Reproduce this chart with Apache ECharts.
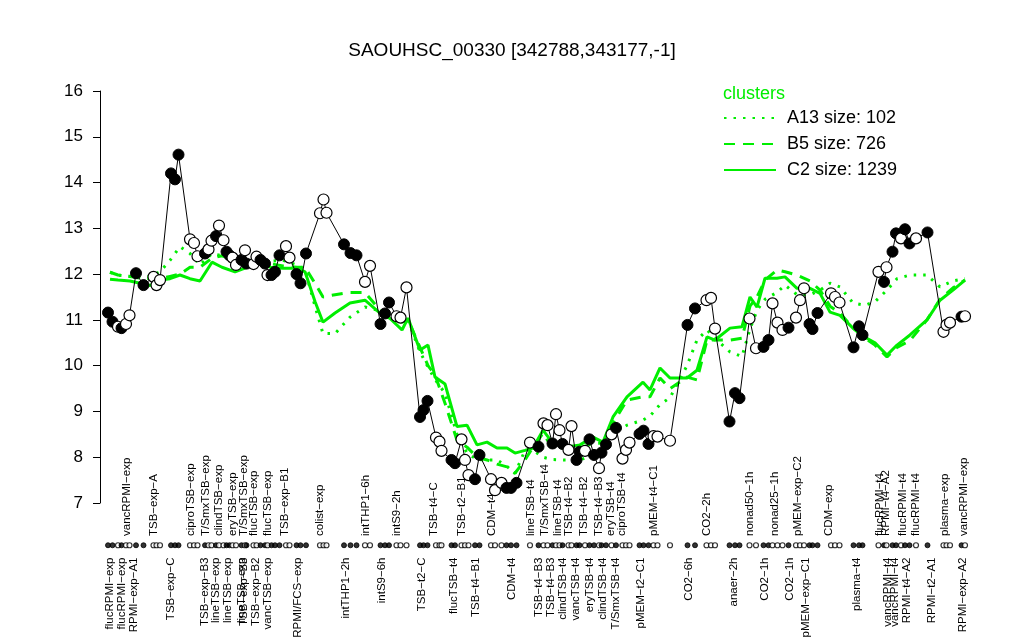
<!DOCTYPE html>
<html>
<head>
<meta charset="utf-8">
<script src="https://cdn.jsdelivr.net/npm/echarts@6/dist/echarts.min.js"></script>
<style>
  html, body { margin: 0; padding: 0; background: #fff; }
  #chart { width: 1024px; height: 640px; }
</style>
</head>
<body>
<div id="chart"></div>
<script>
// sample order positions, expression values, filled (1) / open (0)
const samplePos = [1.6, 2.5, 3.6, 4.3, 5.2, 5.9, 7.2, 8.7, 10.7, 11.3, 12.0, 14.2, 15.0, 15.7, 18.0, 18.8, 19.5, 21.0, 21.7, 22.3,
  23.2, 23.8, 24.7, 25.3, 25.9, 26.5, 27.2, 28.3, 29.0, 29.3, 30.7, 31.3, 32.1, 33.0, 33.5, 34.3, 35.0, 35.9, 37.2, 37.9,
  39.3, 40.1, 41.2, 44.0, 44.7, 45.3, 48.8, 50.1, 51.3, 53.0, 54.0, 56.1, 57.0, 57.8, 59.3, 60.1, 61.3, 64.0, 64.7, 65.5,
  67.2, 67.9, 68.3, 70.3, 71.0, 72.3, 73.0, 73.7, 75.0, 75.9, 78.2, 79.0, 80.3, 81.3, 82.2, 83.3, 86.0, 87.7, 88.7, 89.5,
  90.5, 91.2, 91.9, 92.5, 93.7, 94.3, 95.3, 95.9, 97.0, 97.9, 98.8, 99.8, 100.3, 101.2, 102.3, 103.2, 104.5, 105.2, 105.9, 107.9,
  108.7, 109.7, 110.7, 111.5, 114.0, 117.5, 119.0, 121.3, 122.2, 123.0, 125.9, 127.0, 127.9, 129.9, 131.2, 132.7, 133.7, 134.5, 135.5, 136.5,
  137.7, 139.2, 140.0, 140.8, 141.9, 142.5, 143.5, 146.2, 147.0, 147.9, 150.7, 151.8, 152.5, 155.7, 156.8, 157.3, 158.5, 159.2, 160.2, 161.0,
  161.9, 163.2, 165.5, 168.7, 169.3, 170.0, 172.3, 173.0];
const sampleVal = [11.16, 10.96, 10.85, 10.82, 10.91, 11.1, 12.02, 11.76, 11.94, 11.76, 11.87, 14.2, 14.07, 14.61, 12.76, 12.68, 12.39, 12.45, 12.54, 12.73,
  12.83, 13.06, 12.74, 12.49, 12.41, 12.36, 12.2, 12.31, 12.52, 12.23, 12.22, 12.38, 12.31, 12.23, 11.98, 11.98, 12.05, 12.41, 12.61, 12.36,
  12.0, 11.8, 12.45, 13.33, 13.63, 13.34, 12.65, 12.46, 12.41, 11.83, 12.18, 10.91, 11.14, 11.38, 11.08, 11.05, 11.71, 8.88, 9.03, 9.23,
  8.43, 8.34, 8.14, 7.94, 7.87, 8.39, 7.94, 7.61, 7.52, 8.05, 7.52, 7.28, 7.44, 7.33, 7.33, 7.44, 8.32, 8.23, 8.74, 8.70,
  8.30, 8.94, 8.59, 8.29, 8.16, 8.68, 7.94, 8.12, 8.14, 8.39, 8.05, 7.76, 8.10, 8.28, 8.50, 8.64, 7.97, 8.16, 8.32, 8.51,
  8.58, 8.29, 8.46, 8.45, 8.36, 10.89, 11.25, 11.43, 11.48, 10.81, 8.78, 9.40, 9.29, 11.03, 10.38, 10.41, 10.56, 11.36, 10.94, 10.78,
  10.83, 11.05, 11.43, 11.69, 10.91, 10.80, 11.15, 11.58, 11.50, 11.38, 10.40, 10.86, 10.67, 12.05, 11.83, 12.15, 12.49, 12.89, 12.78, 12.98,
  12.67, 12.78, 12.91, 10.74, 10.89, 10.94, 11.07, 11.08];
const sampleFilled = [1, 1, 0, 1, 0, 0, 1, 1, 0, 0, 0, 1, 1, 1, 0, 0, 0, 1, 0, 0,
  1, 0, 0, 1, 1, 0, 0, 1, 0, 1, 0, 0, 1, 1, 0, 1, 1, 1, 0, 0,
  1, 1, 1, 0, 0, 0, 1, 1, 1, 0, 0, 1, 1, 1, 0, 0, 0, 1, 1, 1,
  0, 0, 0, 1, 1, 0, 0, 0, 1, 1, 0, 0, 0, 1, 1, 1, 0, 1, 0, 0,
  1, 0, 0, 1, 0, 0, 1, 1, 0, 1, 1, 0, 1, 1, 0, 1, 0, 0, 0, 1,
  1, 1, 0, 0, 0, 1, 1, 0, 0, 0, 1, 1, 1, 0, 0, 1, 1, 0, 0, 0,
  1, 0, 0, 0, 1, 1, 1, 0, 0, 0, 1, 1, 1, 0, 1, 0, 1, 1, 0, 1,
  1, 0, 1, 0, 0, 0, 1, 0];

// cluster profiles
const clusterPos = [2, 3.6, 6, 8, 10, 12, 14, 16, 18, 20, 22.4, 24.4, 27, 29.4, 32, 34, 36.6, 39.4, 41, 43,
  44.6, 47, 50, 53, 56, 58, 60.4, 61.6, 64, 65.6, 67, 69, 71.4, 73.4, 75.4, 77.4, 79.4, 81.4, 83, 85,
  86.6, 88.6, 90.4, 93, 96, 98.6, 100.6, 102.6, 105.4, 108.6, 110, 112, 114, 117.4, 119.4, 121.4, 123, 126, 128.4, 130,
  131.4, 133, 135.4, 137, 139.4, 142, 144, 146, 148, 150.6, 153, 155, 157.4, 159.4, 162, 165.4, 168, 170.6, 173];
const clusterA13 = [12.04, 11.98, 11.95, 11.94, 11.95, 12.05, 12.3, 12.6, 12.45, 12.2, 12.45, 12.4, 12.37, 12.3, 12.3, 12.28, 12.3, 12.2, 12.1, 11.3,
  10.7, 10.7, 11.06, 11.28, 11.2, 11.1, 10.95, 11.0, 10.3, 9.97, 9.7, 9.4, 8.5, 8.09, 7.95, 7.94, 7.94, 7.8, 7.65, 8.15,
  8.15, 8.0, 7.95, 7.94, 7.94, 8.05, 8.16, 8.52, 8.7, 8.81, 8.9, 9.15, 9.3, 10.0, 10.56, 10.78, 10.6, 10.3, 10.2, 10.8,
  11.21, 11.45, 11.6, 11.76, 11.55, 11.55, 11.65, 11.8, 11.72, 11.37, 11.32, 11.4, 11.65, 11.9, 11.98, 11.98, 11.72, 11.85, 11.9];
const clusterB5 = [12.04, 11.98, 11.95, 11.91, 11.9, 11.9, 11.95, 12.0, 12.15, 12.15, 12.35, 12.4, 12.3, 12.3, 12.3, 12.23, 12.18, 12.15, 12.15, 11.8,
  11.5, 11.55, 11.6, 11.6, 11.21, 11.1, 10.95, 11.0, 10.4, 10.0, 9.8, 9.18, 8.37, 8.22, 8.0, 7.94, 7.85, 7.79, 7.65, 7.94,
  8.22, 8.52, 8.22, 8.2, 8.2, 8.3, 8.31, 8.74, 9.25, 9.32, 9.32, 9.73, 9.5, 9.75, 9.69, 10.56, 10.56, 10.56, 10.6, 11.3,
  11.5, 11.87, 12.09, 12.05, 11.98, 11.85, 11.65, 11.3, 11.15, 10.82, 10.6, 10.45, 10.19, 10.4, 10.55, 11.0, 11.45, 11.7, 11.87];
const clusterC2 = [11.89, 11.87, 11.85, 11.8, 11.75, 11.87, 11.9, 11.98, 11.9, 11.85, 12.26, 12.15, 12.05, 12.15, 12.4, 12.15, 12.13, 12.13, 12.05, 11.4,
  10.95, 11.15, 11.37, 11.43, 11.15, 11.03, 10.78, 11.04, 10.34, 10.45, 9.75, 9.6, 8.67, 8.7, 8.27, 8.33, 8.2, 8.2, 8.09, 8.15,
  8.2, 8.59, 8.33, 8.22, 8.27, 8.44, 8.33, 8.88, 9.32, 9.64, 9.47, 9.95, 9.73, 9.73, 9.9, 10.63, 10.56, 10.82, 10.85, 11.5,
  11.28, 11.91, 11.91, 11.94, 11.69, 11.69, 11.58, 11.17, 11.1, 10.82, 10.62, 10.5, 10.23, 10.45, 10.67, 11.0, 11.43, 11.65, 11.87];

// sample names shown along the bottom, in two rows
const bottomLabelPos = [2.0, 4.4, 6.8, 14.2, 21.0, 23.2, 25.6, 28.4, 28.8, 31.2, 33.6, 39.6, 49.2, 56.4, 64.4, 70.8, 75.2, 82.4, 87.8,
  90.2, 92.6, 95.2, 98.0, 100.6, 103.2, 108.2, 117.8, 126.8, 133.0, 138.0, 141.2, 151.4, 157.6, 159.0, 161.4, 166.4, 172.6];
const bottomLabelNames = ['flucRPMI\u2212exp', 'flucRPMI\u2212exp', 'RPMI\u2212exp\u2212A1', 'TSB\u2212exp\u2212C', 'TSB\u2212exp\u2212B3',
  'lineTSB\u2212exp', 'lineTSB\u2212exp', 'lineTSB\u2212exp', 'TSB\u2212exp\u2212B3', 'TSB\u2212exp\u2212B2', 'vancTSB\u2212exp',
  'RPMI/FCS\u2212exp', 'intTHP1\u22122h', 'intS9\u22126h', 'TSB\u2212t2\u2212C', 'flucTSB\u2212t4', 'TSB\u2212t4\u2212B1', 'CDM\u2212t4',
  'TSB\u2212t4\u2212B3', 'TSB\u2212t4\u2212B3', 'clindTSB\u2212t4', 'vancTSB\u2212t4', 'eryTSB\u2212t4', 'clindTSB\u2212t4', 'T/SmxTSB\u2212t4',
  'pMEM\u2212t2\u2212C1', 'CO2\u22126h', 'anaer\u22122h', 'CO2\u22121h', 'CO2\u22121h', 'pMEM\u2212exp\u2212C1', 'plasma\u2212t4',
  'vancRPMI\u2212t4', 'vancRPMI\u2212t4', 'RPMI\u2212t4\u2212A2', 'RPMI\u2212t2\u2212A1', 'RPMI\u2212exp\u2212A2'];
const topLabelPos = [3.4, 5.4, 10.8, 18.2, 21.2, 23.8, 26.6, 28.8, 30.8, 33.6, 37.0, 44.0, 53.2, 59.4, 66.8, 72.4, 78.4, 86.2, 89.0,
  91.6, 93.8, 96.8, 99.8, 102.2, 104.4, 110.8, 121.4, 130.0, 135.0, 139.6, 145.8, 156.0, 157.2, 160.6, 163.2, 169.0, 172.8];
const topLabelNames = ['RPMI\u2212exp\u2212A2', 'vancRPMI\u2212exp', 'TSB\u2212exp\u2212A', 'ciproTSB\u2212exp', 'T/SmxTSB\u2212exp',
  'clindTSB\u2212exp', 'eryTSB\u2212exp', 'T/SmxTSB\u2212exp', 'flucTSB\u2212exp', 'flucTSB\u2212exp', 'TSB\u2212exp\u2212B1', 'colist\u2212exp',
  'intTHP1\u22126h', 'intS9\u22122h', 'TSB\u2212t4\u2212C', 'TSB\u2212t2\u2212B1', 'CDM\u2212t4', 'lineTSB\u2212t4', 'T/SmxTSB\u2212t4',
  'lineTSB\u2212t4', 'TSB\u2212t4\u2212B2', 'TSB\u2212t4\u2212B2', 'TSB\u2212t4\u2212B3', 'eryTSB\u2212t4', 'ciproTSB\u2212t4', 'pMEM\u2212t4\u2212C1',
  'CO2\u22122h', 'nonad50\u22121h', 'nonad25\u22121h', 'pMEM\u2212exp\u2212C2', 'CDM\u2212exp', 'flucRPMI\u2212t4', 'RPMI\u2212t4\u2212A2',
  'flucRPMI\u2212t4', 'flucRPMI\u2212t4', 'plasma\u2212exp', 'vancRPMI\u2212exp'];

const FONT = 'Liberation Sans, Arial, sans-serif'
const GREEN = '#00ee00'

function nameAt(posList, names, v) {
  let best = 0
  for (let i = 1; i < posList.length; i++) {
    if (Math.abs(posList[i] - v) < Math.abs(posList[best] - v)) best = i
  }
  return names[best]
}

function pointStyle(f) {
  return f
    ? { color: '#000', borderColor: '#000', borderWidth: 1 }
    : { color: '#fff', borderColor: '#000', borderWidth: 1.2 }
}

const samplePoints = samplePos.map((p, i) => ({ value: [p, sampleVal[i]], itemStyle: pointStyle(sampleFilled[i]) }))
const rowPoints = samplePos.map((p, i) => ({ value: [p, 0], itemStyle: pointStyle(sampleFilled[i]) }))

const clusterSeries = [
  { name: 'A13 size: 102', vals: clusterA13, type: [2.5, 7] },
  { name: 'B5 size: 726', vals: clusterB5, type: [11, 8] },
  { name: 'C2 size: 1239', vals: clusterC2, type: 'solid' }
].map((c) => ({
  name: c.name,
  type: 'line',
  xAxisIndex: 0,
  yAxisIndex: 0,
  symbol: 'none',
  z: 2,
  lineStyle: { color: GREEN, width: 3, type: c.type },
  itemStyle: { color: GREEN },
  data: clusterPos.map((p, i) => [p, c.vals[i]])
}))

const chart = echarts.init(document.getElementById('chart'))
chart.setOption({
  animation: false,
  backgroundColor: '#fff',
  textStyle: { fontFamily: FONT },
  title: [
    {
      text: 'SAOUHSC_00330 [342788,343177,-1]',
      left: 'center',
      top: 36,
      textStyle: { fontFamily: FONT, fontSize: 19, fontWeight: 'normal', color: '#000' }
    },
    {
      text: 'clusters',
      left: 718,
      top: 80,
      textStyle: { fontFamily: FONT, fontSize: 18, fontWeight: 'normal', color: GREEN }
    }
  ],
  legend: {
    show: true,
    orient: 'vertical',
    left: 718,
    top: 104,
    itemWidth: 52,
    itemHeight: 14,
    itemGap: 8,
    itemStyle: { opacity: 0 },
    textStyle: { fontFamily: FONT, fontSize: 18, color: '#000', padding: [0, 0, 0, 6] },
    data: ['A13 size: 102', 'B5 size: 726', 'C2 size: 1239']
  },
  grid: [
    { left: 100, right: 49, top: 91, height: 412 },
    { left: 100, right: 49, top: 544, height: 10 }
  ],
  xAxis: [
    { gridIndex: 0, type: 'value', min: 0, max: 175, show: false },
    {
      gridIndex: 1,
      type: 'value',
      position: 'top',
      min: 0,
      max: 175,
      axisLine: { show: false },
      axisTick: { show: false },
      splitLine: { show: false },
      axisLabel: {
        customValues: topLabelPos,
        rotate: 90,
        margin: 8,
        fontSize: 11.5,
        color: '#000',
        fontFamily: FONT,
        formatter: (v) => nameAt(topLabelPos, topLabelNames, v)
      }
    },
    {
      gridIndex: 1,
      type: 'value',
      position: 'bottom',
      min: 0,
      max: 175,
      axisLine: { show: false },
      axisTick: { show: false },
      splitLine: { show: false },
      axisLabel: {
        customValues: bottomLabelPos,
        rotate: 90,
        margin: 11,
        fontSize: 11.5,
        color: '#000',
        fontFamily: FONT,
        formatter: (v) => nameAt(bottomLabelPos, bottomLabelNames, v)
      }
    }
  ],
  yAxis: [
    {
      gridIndex: 0,
      type: 'value',
      min: 7,
      max: 16,
      interval: 1,
      offset: 8,
      axisLine: { show: true, lineStyle: { color: '#000', width: 1 } },
      axisTick: { show: true, length: 7, lineStyle: { color: '#000' } },
      splitLine: { show: false },
      axisLabel: { fontSize: 17, color: '#000', margin: 9, fontFamily: FONT }
    },
    { gridIndex: 1, type: 'value', min: -1, max: 1, show: false }
  ],
  series: [
    ...clusterSeries,
    {
      name: 'samples',
      type: 'line',
      xAxisIndex: 0,
      yAxisIndex: 0,
      z: 3,
      symbol: 'circle',
      symbolSize: 11,
      lineStyle: { color: '#000', width: 1 },
      data: samplePoints
    },
    {
      name: 'row',
      type: 'scatter',
      xAxisIndex: 2,
      yAxisIndex: 1,
      symbol: 'circle',
      symbolSize: 5,
      data: rowPoints
    }
  ]
})
</script>
</body>
</html>
